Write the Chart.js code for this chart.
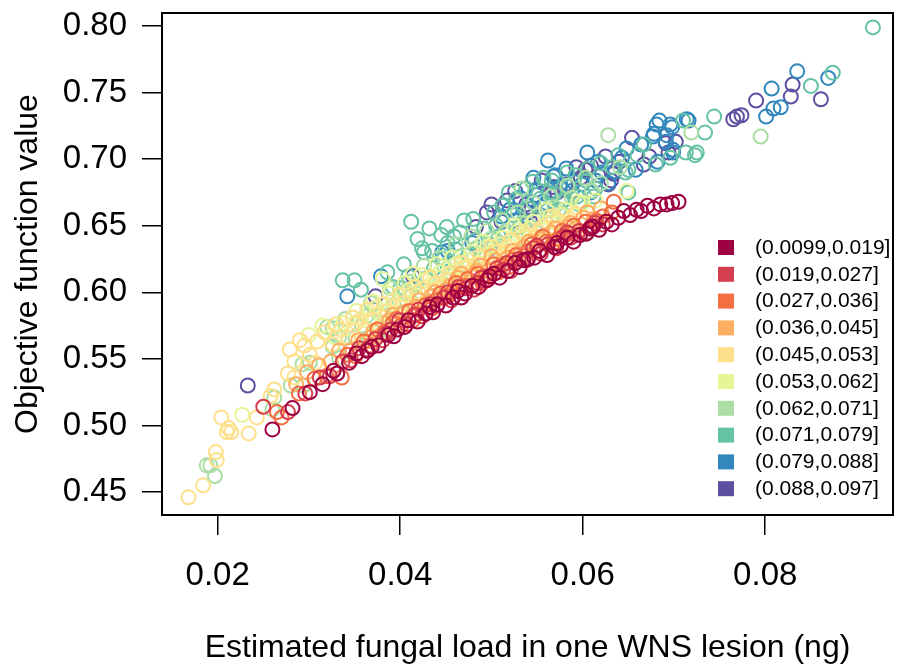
<!DOCTYPE html>
<html>
<head>
<meta charset="utf-8">
<script src="https://cdn.jsdelivr.net/npm/chart.js@4.4.0/dist/chart.umd.min.js"></script>
<style>
  body { margin: 0; background: #fff; }
</style>
</head>
<body>
<canvas id="scatter" width="903" height="667"></canvas>
<script>
const binLabels = ["(0.0099,0.019]", "(0.019,0.027]", "(0.027,0.036]", "(0.036,0.045]", "(0.045,0.053]",
  "(0.053,0.062]", "(0.062,0.071]", "(0.071,0.079]", "(0.079,0.088]", "(0.088,0.097]"];
const binColors = ["#9E0142", "#D53E4F", "#F46D43", "#FDAE61", "#FEE08B",
  "#E6F598", "#ABDDA4", "#66C2A5", "#3288BD", "#5E4FA2"];
const xTicks = [0.02, 0.04, 0.06, 0.08];
const yTicks = [0.45, 0.5, 0.55, 0.6, 0.65, 0.7, 0.75, 0.8];

// [fungal load, objective value]
const bin1 = [[0.0260,0.497],[0.0282,0.513],[0.0301,0.525],[0.0315,0.531],[0.0327,0.541],[0.0331,0.539],[0.0344,0.547],
  [0.0352,0.554],[0.0358,0.552],[0.0364,0.556],[0.0369,0.559],[0.0376,0.560],[0.0387,0.568],[0.0393,0.567],[0.0397,0.572],
  [0.0405,0.574],[0.0409,0.579],[0.0419,0.578],[0.0428,0.584],[0.0432,0.589],[0.0436,0.585],[0.0441,0.591],[0.0450,0.590],
  [0.0458,0.596],[0.0463,0.601],[0.0467,0.596],[0.0471,0.599],[0.0479,0.605],[0.0486,0.604],[0.0495,0.609],[0.0498,0.612],
  [0.0503,0.614],[0.0509,0.611],[0.0518,0.616],[0.0526,0.622],[0.0531,0.619],[0.0535,0.624],[0.0540,0.625],[0.0547,0.626],
  [0.0553,0.631],[0.0561,0.628],[0.0569,0.634],[0.0572,0.637],[0.0576,0.635],[0.0583,0.641],[0.0590,0.638],[0.0597,0.643],
  [0.0604,0.644],[0.0608,0.648],[0.0611,0.649],[0.0618,0.647],[0.0626,0.653],[0.0632,0.651],[0.0639,0.656],[0.0645,0.661],
  [0.0652,0.658],[0.0659,0.662],[0.0664,0.661],[0.0671,0.665],[0.0678,0.663],[0.0685,0.666],[0.0692,0.666],[0.0698,0.667],
  [0.0705,0.668]];
const bin2 = [[0.0250,0.514],[0.0277,0.510],[0.0296,0.524],[0.0312,0.536],[0.0323,0.537],[0.0337,0.548],[0.0346,0.549],
  [0.0355,0.558],[0.0364,0.557],[0.0373,0.565],[0.0381,0.564],[0.0385,0.569],[0.0390,0.572],[0.0399,0.579],[0.0407,0.576],
  [0.0416,0.583],[0.0420,0.587],[0.0424,0.582],[0.0433,0.591],[0.0440,0.590],[0.0448,0.596],[0.0452,0.600],[0.0456,0.594],
  [0.0464,0.604],[0.0472,0.603],[0.0481,0.602],[0.0485,0.607],[0.0489,0.611],[0.0497,0.610],[0.0506,0.618],[0.0513,0.617],
  [0.0517,0.622],[0.0521,0.616],[0.0530,0.625],[0.0538,0.624],[0.0546,0.633],[0.0550,0.635],[0.0554,0.629],[0.0562,0.636],
  [0.0571,0.633],[0.0579,0.642],[0.0583,0.645],[0.0587,0.641],[0.0596,0.646],[0.0605,0.645],[0.0610,0.650],[0.0614,0.652],
  [0.0622,0.651]];
const bin3 = [[0.0265,0.510],[0.0270,0.506],[0.0289,0.524],[0.0306,0.535],[0.0319,0.537],[0.0336,0.536],[0.0342,0.553],
  [0.0351,0.552],[0.0360,0.563],[0.0367,0.560],[0.0375,0.572],[0.0383,0.570],[0.0392,0.577],[0.0396,0.580],[0.0401,0.575],
  [0.0410,0.586],[0.0414,0.579],[0.0418,0.583],[0.0427,0.590],[0.0435,0.588],[0.0439,0.594],[0.0444,0.599],[0.0452,0.597],
  [0.0457,0.600],[0.0461,0.607],[0.0469,0.605],[0.0474,0.610],[0.0477,0.604],[0.0485,0.614],[0.0490,0.607],[0.0493,0.612],
  [0.0502,0.621],[0.0508,0.615],[0.0511,0.620],[0.0519,0.619],[0.0523,0.624],[0.0527,0.628],[0.0536,0.627],[0.0540,0.631],
  [0.0544,0.636],[0.0552,0.631],[0.0556,0.642],[0.0560,0.638],[0.0568,0.637],[0.0573,0.640],[0.0577,0.646],[0.0585,0.644],
  [0.0590,0.650],[0.0594,0.643],[0.0603,0.653],[0.0608,0.648],[0.0615,0.654],[0.0622,0.657],[0.0632,0.660],[0.0634,0.668]];
const bin4 = [[0.0286,0.531],[0.0298,0.540],[0.0311,0.545],[0.0324,0.548],[0.0333,0.556],[0.0345,0.556],[0.0354,0.564],
  [0.0363,0.563],[0.0368,0.566],[0.0371,0.571],[0.0379,0.568],[0.0388,0.579],[0.0392,0.583],[0.0396,0.576],[0.0404,0.585],
  [0.0413,0.582],[0.0417,0.589],[0.0421,0.594],[0.0430,0.592],[0.0434,0.597],[0.0438,0.600],[0.0447,0.597],[0.0451,0.602],
  [0.0455,0.605],[0.0463,0.611],[0.0467,0.614],[0.0471,0.605],[0.0480,0.613],[0.0484,0.616],[0.0488,0.620],[0.0496,0.616],
  [0.0500,0.627],[0.0505,0.624],[0.0514,0.621],[0.0518,0.626],[0.0523,0.631],[0.0532,0.629],[0.0536,0.634],[0.0541,0.638],
  [0.0549,0.634],[0.0553,0.640],[0.0558,0.641],[0.0566,0.645],[0.0570,0.648],[0.0574,0.641],[0.0583,0.649],[0.0587,0.652],
  [0.0592,0.648],[0.0601,0.656],[0.0605,0.660],[0.0612,0.655],[0.0620,0.663]];
const bin5 = [[0.0168,0.446],[0.0184,0.455],[0.0198,0.480],[0.0199,0.474],[0.0204,0.506],[0.0210,0.495],[0.0212,0.498],
  [0.0215,0.495],[0.0234,0.494],[0.0243,0.506],[0.0258,0.522],[0.0262,0.527],[0.0277,0.539],[0.0279,0.557],[0.0284,0.536],
  [0.0284,0.548],[0.0290,0.564],[0.0295,0.560],[0.0301,0.553],[0.0307,0.547],[0.0309,0.563],[0.0317,0.570],[0.0326,0.561],
  [0.0330,0.576],[0.0335,0.572],[0.0343,0.566],[0.0348,0.581],[0.0352,0.577],[0.0361,0.572],[0.0364,0.587],[0.0369,0.580],
  [0.0378,0.574],[0.0382,0.591],[0.0386,0.586],[0.0395,0.581],[0.0399,0.598],[0.0403,0.592],[0.0412,0.589],[0.0416,0.604],
  [0.0420,0.600],[0.0429,0.594],[0.0433,0.611],[0.0437,0.606],[0.0446,0.604],[0.0450,0.609],[0.0454,0.614],[0.0462,0.608],
  [0.0467,0.622],[0.0471,0.619],[0.0479,0.616],[0.0484,0.621],[0.0487,0.627],[0.0496,0.620],[0.0500,0.634],[0.0504,0.630],
  [0.0513,0.629],[0.0517,0.634],[0.0521,0.639],[0.0530,0.632],[0.0534,0.645],[0.0538,0.642],[0.0547,0.641],[0.0551,0.646],
  [0.0556,0.649],[0.0564,0.644],[0.0568,0.657],[0.0573,0.654],[0.0582,0.650],[0.0586,0.655],[0.0592,0.659],[0.0600,0.656]];
const bin6 = [[0.0227,0.508],[0.0300,0.568],[0.0315,0.575],[0.0329,0.566],[0.0338,0.577],[0.0348,0.572],[0.0352,0.586],
  [0.0357,0.580],[0.0366,0.578],[0.0370,0.593],[0.0374,0.589],[0.0381,0.610],[0.0383,0.585],[0.0388,0.599],[0.0392,0.594],
  [0.0401,0.589],[0.0405,0.607],[0.0410,0.602],[0.0414,0.614],[0.0418,0.597],[0.0423,0.613],[0.0427,0.609],[0.0435,0.603],
  [0.0440,0.621],[0.0444,0.615],[0.0452,0.610],[0.0457,0.626],[0.0461,0.621],[0.0469,0.618],[0.0474,0.624],[0.0478,0.630],
  [0.0486,0.622],[0.0491,0.638],[0.0495,0.634],[0.0503,0.630],[0.0508,0.636],[0.0512,0.641],[0.0520,0.635],[0.0525,0.650],
  [0.0529,0.646],[0.0537,0.641],[0.0542,0.648],[0.0546,0.653],[0.0555,0.647],[0.0560,0.662],[0.0564,0.657],[0.0572,0.652],
  [0.0577,0.658],[0.0581,0.662],[0.0591,0.658],[0.0595,0.668],[0.0600,0.667],[0.0614,0.669],[0.0631,0.660],[0.0648,0.676]];
const bin7 = [[0.0188,0.470],[0.0192,0.470],[0.0197,0.462],[0.0260,0.512],[0.0262,0.521],[0.0280,0.530],[0.0294,0.530],
  [0.0293,0.546],[0.0301,0.547],[0.0320,0.574],[0.0326,0.559],[0.0326,0.573],[0.0333,0.566],[0.0333,0.551],[0.0340,0.580],
  [0.0346,0.557],[0.0351,0.566],[0.0358,0.575],[0.0363,0.582],[0.0368,0.592],[0.0372,0.587],[0.0379,0.583],[0.0382,0.577],
  [0.0385,0.572],[0.0389,0.603],[0.0393,0.590],[0.0399,0.594],[0.0406,0.600],[0.0410,0.608],[0.0413,0.592],[0.0421,0.599],
  [0.0426,0.620],[0.0430,0.611],[0.0439,0.607],[0.0443,0.626],[0.0448,0.620],[0.0457,0.614],[0.0461,0.636],[0.0466,0.627],
  [0.0474,0.620],[0.0478,0.642],[0.0483,0.633],[0.0491,0.627],[0.0495,0.646],[0.0499,0.640],[0.0508,0.633],[0.0512,0.654],
  [0.0516,0.646],[0.0525,0.638],[0.0529,0.660],[0.0533,0.652],[0.0533,0.678],[0.0542,0.646],[0.0546,0.667],[0.0551,0.658],
  [0.0560,0.652],[0.0565,0.672],[0.0569,0.664],[0.0578,0.659],[0.0583,0.680],[0.0588,0.671],[0.0597,0.666],[0.0603,0.686],
  [0.0610,0.676],[0.0620,0.682],[0.0628,0.718],[0.0641,0.694],[0.0719,0.720],[0.0795,0.717]];
const bin8 = [[0.0337,0.609],[0.0350,0.609],[0.0357,0.602],[0.0386,0.615],[0.0392,0.604],[0.0400,0.603],[0.0404,0.621],
  [0.0409,0.612],[0.0412,0.653],[0.0417,0.606],[0.0419,0.640],[0.0424,0.633],[0.0426,0.630],[0.0432,0.648],[0.0435,0.631],
  [0.0437,0.618],[0.0445,0.643],[0.0447,0.625],[0.0451,0.649],[0.0452,0.637],[0.0459,0.642],[0.0461,0.632],[0.0466,0.645],
  [0.0470,0.654],[0.0475,0.628],[0.0480,0.655],[0.0482,0.639],[0.0488,0.630],[0.0492,0.648],[0.0497,0.636],[0.0503,0.660],
  [0.0505,0.650],[0.0508,0.642],[0.0512,0.665],[0.0515,0.644],[0.0519,0.675],[0.0524,0.658],[0.0527,0.670],[0.0531,0.649],
  [0.0533,0.652],[0.0538,0.678],[0.0540,0.663],[0.0545,0.683],[0.0548,0.655],[0.0553,0.670],[0.0557,0.686],[0.0561,0.662],
  [0.0563,0.675],[0.0566,0.684],[0.0569,0.674],[0.0574,0.662],[0.0577,0.668],[0.0579,0.669],[0.0583,0.690],[0.0585,0.679],
  [0.0592,0.688],[0.0594,0.672],[0.0596,0.666],[0.0603,0.684],[0.0606,0.693],[0.0612,0.672],[0.0614,0.678],[0.0620,0.697],
  [0.0632,0.694],[0.0639,0.703],[0.0647,0.690],[0.0650,0.692],[0.0650,0.675],[0.0660,0.703],[0.0667,0.711],[0.0680,0.696],
  [0.0696,0.701],[0.0710,0.729],[0.0713,0.705],[0.0723,0.703],[0.0725,0.705],[0.0734,0.720],[0.0744,0.732],[0.0850,0.755],
  [0.0874,0.765],[0.0918,0.799]];
const bin9 = [[0.0342,0.597],[0.0379,0.612],[0.0446,0.630],[0.0452,0.631],[0.0479,0.637],[0.0499,0.633],[0.0511,0.657],
  [0.0520,0.662],[0.0525,0.654],[0.0531,0.671],[0.0537,0.661],[0.0546,0.686],[0.0549,0.673],[0.0549,0.677],[0.0555,0.664],
  [0.0560,0.667],[0.0562,0.699],[0.0568,0.687],[0.0570,0.688],[0.0575,0.679],[0.0582,0.693],[0.0588,0.676],[0.0590,0.683],
  [0.0599,0.681],[0.0605,0.705],[0.0609,0.675],[0.0614,0.684],[0.0617,0.698],[0.0621,0.690],[0.0628,0.682],[0.0635,0.691],
  [0.0643,0.701],[0.0648,0.708],[0.0658,0.692],[0.0664,0.711],[0.0677,0.717],[0.0678,0.719],[0.0681,0.726],[0.0682,0.698],
  [0.0684,0.729],[0.0691,0.713],[0.0692,0.718],[0.0696,0.726],[0.0698,0.724],[0.0699,0.705],[0.0699,0.707],[0.0714,0.730],
  [0.0716,0.729],[0.0801,0.732],[0.0807,0.753],[0.0809,0.738],[0.0817,0.739],[0.0835,0.766],[0.0869,0.761]];
const bin10 = [[0.0233,0.530],[0.0373,0.597],[0.0414,0.612],[0.0483,0.649],[0.0495,0.660],[0.0500,0.666],[0.0511,0.653],
  [0.0517,0.669],[0.0526,0.676],[0.0538,0.666],[0.0541,0.660],[0.0542,0.654],[0.0544,0.663],[0.0555,0.684],[0.0566,0.675],
  [0.0568,0.679],[0.0572,0.675],[0.0581,0.681],[0.0593,0.694],[0.0598,0.686],[0.0603,0.692],[0.0609,0.695],[0.0617,0.688],
  [0.0625,0.702],[0.0628,0.681],[0.0631,0.684],[0.0634,0.689],[0.0640,0.698],[0.0654,0.716],[0.0667,0.696],[0.0673,0.702],
  [0.0691,0.712],[0.0694,0.705],[0.0702,0.713],[0.0765,0.730],[0.0769,0.732],[0.0774,0.733],[0.0790,0.744],[0.0828,0.747],
  [0.0830,0.756],[0.0861,0.745]];

const bins = [bin1, bin2, bin3, bin4, bin5, bin6, bin7, bin8, bin9, bin10];

const fontFamily = "'Liberation Sans', Arial, Helvetica, sans-serif";

// box round the plot region, like R's box()
const frame = {
  id: "frame",
  afterDraw(chart) {
    const { ctx, chartArea: a } = chart;
    ctx.save();
    ctx.strokeStyle = "#000";
    ctx.lineWidth = 2;
    ctx.strokeRect(a.left, a.top, a.right - a.left, a.bottom - a.top);
    ctx.restore();
  },
};

// legend with filled squares inside the plot, bottom right
const binLegend = {
  id: "binLegend",
  afterDraw(chart) {
    const ctx = chart.ctx;
    ctx.save();
    ctx.font = "21px " + fontFamily;
    ctx.textBaseline = "middle";
    ctx.textAlign = "left";
    binLabels.forEach((lab, i) => {
      const y = 247 + i * 26.8;
      ctx.fillStyle = binColors[i];
      ctx.fillRect(718, y - 7, 16, 15);
      ctx.fillStyle = "#000";
      ctx.fillText(lab, 755, y + 1);
    });
    ctx.restore();
  },
};

const datasets = bins.map((b, i) => ({
  label: binLabels[i],
  data: b.map((p) => ({ x: p[0], y: p[1] })),
  borderColor: binColors[i],
  backgroundColor: "rgba(0,0,0,0)",
  pointRadius: 7,
  pointHoverRadius: 7,
  pointBorderWidth: 2,
}));

new Chart(document.getElementById("scatter"), {
  type: "scatter",
  data: { datasets: datasets },
  options: {
    responsive: false,
    animation: false,
    devicePixelRatio: 1,
    layout: { padding: { top: 13, right: 10, left: 0, bottom: 0 } },
    plugins: { legend: { display: false }, tooltip: { enabled: false } },
    scales: {
      x: {
        type: "linear",
        min: 0.0139,
        max: 0.094,
        afterBuildTicks: (s) => { s.ticks = xTicks.map((v) => ({ value: v })); },
        afterFit: (s) => { s.height = 152; s.paddingLeft = 0; s.paddingRight = 0; },
        grid: { drawOnChartArea: false, drawTicks: true, tickLength: 20, color: "#000", lineWidth: 1.5 },
        border: { display: false },
        ticks: {
          color: "#000", autoSkip: false, maxRotation: 0, padding: 21,
          font: { family: fontFamily, size: 33 },
          callback: (v) => v.toFixed(2),
        },
        title: {
          display: true, text: "Estimated fungal load in one WNS lesion (ng)", color: "#000",
          font: { family: fontFamily, size: 32, lineHeight: 1 }, padding: { top: 0, bottom: 3 },
        },
      },
      y: {
        type: "linear",
        min: 0.4327,
        max: 0.8098,
        afterBuildTicks: (s) => { s.ticks = yTicks.map((v) => ({ value: v })); },
        afterFit: (s) => { s.width = 162; s.paddingTop = 0; s.paddingBottom = 0; },
        grid: { drawOnChartArea: false, drawTicks: true, tickLength: 20, color: "#000", lineWidth: 1.5 },
        border: { display: false },
        ticks: {
          color: "#000", autoSkip: false, padding: 15,
          font: { family: fontFamily, size: 33 },
          callback: (v) => v.toFixed(2),
        },
        title: {
          display: true, text: "Objective function value", color: "#000",
          font: { family: fontFamily, size: 32, lineHeight: 1 }, padding: { top: 12, bottom: 0 },
        },
      },
    },
  },
  plugins: [frame, binLegend],
});
</script>
</body>
</html>
